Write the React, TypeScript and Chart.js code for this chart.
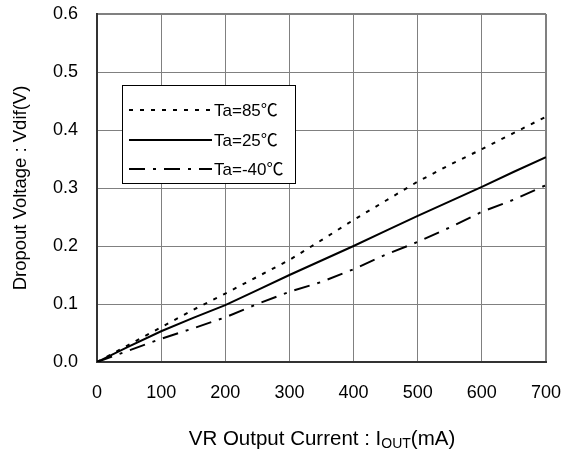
import React, { useEffect, useRef } from "react";
import { Chart, registerables } from "chart.js";

Chart.register(...registerables);

const currents = [0, 50, 100, 150, 200, 250, 300, 350, 400, 450, 500, 550, 600, 650, 700];
const ta85 = [0, 0.03, 0.06, 0.09, 0.118, 0.147, 0.176, 0.21, 0.245, 0.278, 0.311, 0.34, 0.367, 0.395, 0.423];
const ta25 = [0, 0.027, 0.053, 0.076, 0.098, 0.124, 0.15, 0.175, 0.2, 0.226, 0.252, 0.277, 0.302, 0.328, 0.353];
const taMinus40 = [0, 0.02, 0.04, 0.058, 0.077, 0.1, 0.121, 0.138, 0.16, 0.185, 0.207, 0.232, 0.259, 0.28, 0.305];
const seriesLabels = ["Ta=85\u2103", "Ta=25\u2103", "Ta=-40\u2103"];
const yTitle = "Dropout Voltage : Vdif(V)";
const xTitleMain = "VR Output Current : I";
const xTitleSub = "OUT";
const xTitleEnd = "(mA)";

const FONT = "'Liberation Sans', Arial, 'Noto Sans CJK JP', sans-serif";

const overlay = {
  id: "overlay",
  afterDatasetsDraw(chart: any) {
    const ctx = chart.ctx;
    ctx.save();
    // legend box
    const bx = 122, by = 85, bw = 173, bh = 98;
    ctx.fillStyle = "#fff";
    ctx.fillRect(bx, by, bw, bh);
    ctx.strokeStyle = "#000";
    ctx.lineWidth = 1;
    ctx.setLineDash([]);
    ctx.strokeRect(bx + 0.5, by + 0.5, bw, bh);
    const rows = [110, 140, 169];
    chart.data.datasets.forEach((ds: any, i: number) => {
      const y = rows[i];
      ctx.beginPath();
      ctx.strokeStyle = "#000";
      ctx.lineWidth = ds.borderWidth;
      ctx.setLineDash(ds.borderDash || []);
      ctx.moveTo(129, y);
      ctx.lineTo(212, y);
      ctx.stroke();
      ctx.setLineDash([]);
      ctx.fillStyle = "#000";
      ctx.font = "17px " + FONT;
      ctx.textBaseline = "middle";
      ctx.textAlign = "left";
      ctx.fillText(ds.label, 214, y + 1);
    });
    // y title
    ctx.save();
    ctx.translate(21, 188);
    ctx.rotate(-Math.PI / 2);
    ctx.font = "18.5px " + FONT;
    ctx.textAlign = "center";
    ctx.textBaseline = "middle";
    ctx.fillStyle = "#000";
    ctx.fillText(yTitle, 0, 0);
    ctx.restore();
    // x title with subscript
    const mainFont = "20.5px " + FONT;
    const subFont = "14px " + FONT;
    ctx.font = mainFont;
    const w1 = ctx.measureText(xTitleMain).width;
    const w3 = ctx.measureText(xTitleEnd).width;
    ctx.font = subFont;
    const w2 = ctx.measureText(xTitleSub).width;
    const total = w1 + w2 + w3;
    let x = 322 - total / 2;
    const base = 445;
    ctx.textAlign = "left";
    ctx.textBaseline = "alphabetic";
    ctx.fillStyle = "#000";
    ctx.font = mainFont;
    ctx.fillText(xTitleMain, x, base);
    x += w1;
    ctx.font = subFont;
    ctx.fillText(xTitleSub, x, base + 3);
    x += w2;
    ctx.font = mainFont;
    ctx.fillText(xTitleEnd, x, base);
    ctx.restore();
  },
};

export default function App() {
  const ref = useRef<HTMLCanvasElement>(null);
  useEffect(() => {
    if (!ref.current) return;
    const mk = (arr: number[]) => currents.map((c, i) => ({ x: c, y: arr[i] }));
    const chart = new Chart(ref.current, {
      type: "line",
      data: {
        datasets: [
          { label: seriesLabels[0], data: mk(ta85), borderColor: "#000", borderWidth: 2, borderDash: [4, 7], pointRadius: 0, fill: false, tension: 0 },
          { label: seriesLabels[1], data: mk(ta25), borderColor: "#000", borderWidth: 2, pointRadius: 0, fill: false, tension: 0 },
          { label: seriesLabels[2], data: mk(taMinus40), borderColor: "#000", borderWidth: 2, borderDash: [16, 8, 3, 8], pointRadius: 0, fill: false, tension: 0 },
        ],
      },
      options: {
        responsive: false,
        animation: false,
        layout: { padding: { top: 14, right: 17, left: 0, bottom: 0 } },
        plugins: { legend: { display: false }, tooltip: { enabled: false }, title: { display: false } },
        scales: {
          x: {
            type: "linear",
            min: 0,
            max: 700,
            ticks: { stepSize: 100, color: "#000", padding: 20, font: { size: 18, family: FONT }, maxRotation: 0 },
            grid: { color: "#808080", lineWidth: (c: any) => (c.index === 7 ? 2 : 1), drawTicks: false },
            border: { display: true, color: "#333", width: 2 },
            afterFit: (s: any) => { s.height = 88; s.paddingLeft = 0; s.paddingRight = 0; },
          },
          y: {
            min: 0,
            max: 0.6,
            ticks: { stepSize: 0.1, color: "#000", padding: 19, font: { size: 18, family: FONT }, callback: (v: any) => Number(v).toFixed(1) },
            grid: { color: "#808080", lineWidth: (c: any) => (c.index === 6 ? 2 : 1), drawTicks: false },
            border: { display: true, color: "#333", width: 2 },
            afterFit: (s: any) => { s.width = 97; s.paddingTop = 0; s.paddingBottom = 0; },
          },
        },
      },
      plugins: [overlay],
    } as any);
    return () => chart.destroy();
  }, []);
  return (
    <div style={{ position: "absolute", left: 0, top: 0, width: 563, height: 450, background: "#fff" }}>
      <canvas ref={ref} width={563} height={450} />
    </div>
  );
}
